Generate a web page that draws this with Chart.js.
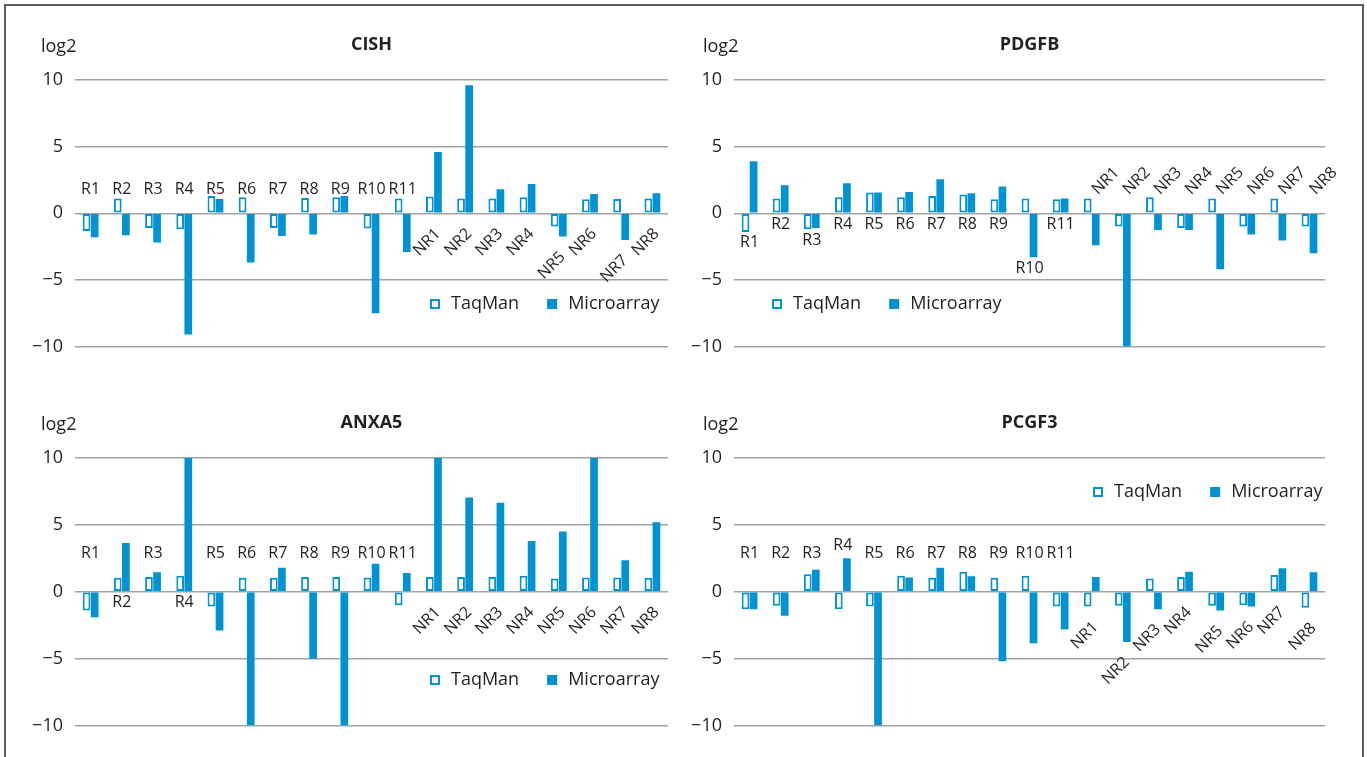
<!DOCTYPE html>
<html>
<head>
<meta charset="utf-8">
<script src="https://cdn.jsdelivr.net/npm/chart.js@4.4.1/dist/chart.umd.min.js"></script>
<style>
  body { margin: 0; background: #fff; }
  #wrap { position: relative; width: 1367px; height: 757px; overflow: hidden; }
  #frame { position: absolute; left: 4px; top: 4px; width: 1360px; height: 900px;
           box-sizing: border-box; border: 2px solid #5c5c5c; }
  canvas { position: absolute; }
</style>
</head>
<body>
<div id="wrap">
  <div id="frame"></div>
  <canvas id="cish"  width="683" height="378" style="left:0;top:0"></canvas>
  <canvas id="pdgfb" width="684" height="378" style="left:683px;top:0"></canvas>
  <canvas id="anxa5" width="683" height="379" style="left:0;top:378px"></canvas>
  <canvas id="pcgf3" width="684" height="379" style="left:683px;top:378px"></canvas>
</div>
<script>
// categories shared by all four panels
const categories = ['R1','R2','R3','R4','R5','R6','R7','R8','R9','R10','R11',
  'NR1','NR2','NR3','NR4','NR5','NR6','NR7','NR8'];
const yTicks = [-10, -5, 0, 5, 10];

// log2 ratios
const cishTaqman     = [-1.33, 1.1, -1.1, -1.2, 1.3, 1.2, -1.1, 1.15, 1.2, -1.15, 1.1, 1.25, 1.1, 1.1, 1.2, -1.0, 1.05, 1.07, 1.1];
const cishMicroarray = [-1.8, -1.65, -2.2, -9.1, 1.07, -3.7, -1.7, -1.6, 1.3, -7.5, -2.9, 4.6, 9.6, 1.8, 2.2, -1.75, 1.45, -2.0, 1.5];

const pdgfbTaqman     = [-1.4, 1.1, -1.2, 1.2, 1.55, 1.2, 1.3, 1.4, 1.05, 1.1, 1.05, 1.1, -1.0, 1.2, -1.1, 1.1, -1.0, 1.1, -1.0];
const pdgfbMicroarray = [3.9, 2.1, -1.1, 2.25, 1.55, 1.6, 2.55, 1.5, 2.0, -3.3, 1.1, -2.4, -10, -1.25, -1.25, -4.2, -1.6, -2.05, -3.0];

const anxa5Taqman     = [-1.4, 1.05, 1.1, 1.2, -1.1, 1.05, 1.05, 1.1, 1.1, 1.07, -1.0, 1.1, 1.1, 1.1, 1.2, 1.0, 1.07, 1.07, 1.05];
const anxa5Microarray = [-1.9, 3.65, 1.45, 10, -2.9, -10, 1.8, -5.0, -10, 2.1, 1.4, 10, 7.05, 6.65, 3.8, 4.5, 10, 2.35, 5.2];

const pcgf3Taqman     = [-1.3, -1.05, 1.3, -1.3, -1.1, 1.2, 1.05, 1.5, 1.05, 1.2, -1.1, -1.1, -1.05, 1.0, 1.1, -1.05, -1.0, 1.25, -1.2];
const pcgf3Microarray = [-1.3, -1.8, 1.65, 2.5, -10, 1.07, 1.8, 1.15, -5.2, -3.85, -2.8, 1.1, -3.75, -1.3, 1.5, -1.4, -1.1, 1.75, 1.45];

const BLUE = '#0093d3';
const TEXT = '#231f20';
const FONT = "'Open Sans', sans-serif";

// title and "log2" caption above each panel
const headerPlugin = {
  id: 'header',
  afterDraw(chart, args, o) {
    const { ctx, chartArea } = chart;
    ctx.save();
    ctx.fillStyle = TEXT;
    ctx.textBaseline = 'middle';
    ctx.font = '18px ' + FONT;
    ctx.textAlign = 'left';
    ctx.fillText('log2', o.unitX, 47);
    ctx.font = 'bold 18px ' + FONT;
    ctx.textAlign = 'center';
    ctx.fillText(o.title, (chartArea.left + chartArea.right) / 2, 45);
    ctx.restore();
  }
};

// sample names written next to the bars, as in the original figure
const categoryLabels = {
  id: 'categoryLabels',
  afterDatasetsDraw(chart, args, o) {
    const { ctx, scales: { x, y } } = chart;
    const a = chart.data.datasets[0].data, b = chart.data.datasets[1].data;
    ctx.save();
    ctx.font = '16px ' + FONT;
    ctx.fillStyle = TEXT;
    ctx.textBaseline = 'middle';
    chart.data.labels.forEach((lab, i) => {
      const rule = lab.startsWith('NR') ? o.nr : o.r;
      const lo = Math.min(0, a[i], b[i]);
      const hi = Math.max(0, a[i], b[i]);
      const cx = x.getPixelForValue(i);
      let py;
      if (rule.mode === 'row') {
        py = y.getPixelForValue(rule.at);
        if (rule.clash && hi > rule.at - 0.5) {
          py = rule.clash === 'above' ? y.getPixelForValue(hi) - 13 : y.getPixelForValue(lo) + 11;
        }
      } else {
        py = y.getPixelForValue(lo) + (rule.angle ? 18 : 11);
      }
      ctx.save();
      if (rule.angle) {
        ctx.translate(cx + (rule.mode === 'below' ? 4 : 3), py);
        ctx.rotate(rule.angle * Math.PI / 180);
        ctx.textAlign = rule.mode === 'below' ? 'right' : 'left';
      } else {
        ctx.translate(cx, py);
        ctx.textAlign = 'center';
      }
      ctx.fillText(lab, 0, 0);
      ctx.restore();
    });
    ctx.restore();
  }
};

// small square legend placed inside the plot
const boxLegend = {
  id: 'boxLegend',
  afterDraw(chart, args, o) {
    const ctx = chart.ctx;
    let x = o.x;
    const y = o.y;
    ctx.save();
    ctx.font = '18px ' + FONT;
    ctx.textBaseline = 'middle';
    ctx.textAlign = 'left';
    chart.data.datasets.forEach(ds => {
      ctx.fillStyle = ds.backgroundColor;
      ctx.fillRect(x, y - 5, 10, 10);
      if (ds.borderWidth) {
        ctx.strokeStyle = ds.borderColor;
        ctx.lineWidth = 2;
        ctx.strokeRect(x + 1, y - 4, 8, 8);
      }
      ctx.fillStyle = TEXT;
      ctx.fillText(ds.label, x + 21, y);
      x += 21 + ctx.measureText(ds.label).width + 28;
    });
    ctx.restore();
  }
};

function makeChart(id, title, taqman, microarray, opts) {
  return new Chart(document.getElementById(id), {
    type: 'bar',
    data: {
      labels: categories,
      datasets: [
        { label: 'TaqMan', data: taqman, backgroundColor: '#ffffff', borderColor: BLUE,
          borderWidth: 2, borderSkipped: false },
        { label: 'Microarray', data: microarray, backgroundColor: BLUE, borderWidth: 0 }
      ]
    },
    options: {
      responsive: false,
      animation: false,
      categoryPercentage: 0.52,
      barPercentage: 0.95,
      layout: { padding: { top: 80, bottom: 31.5, left: 0, right: opts.padRight } },
      scales: {
        x: { display: false },
        y: {
          min: -10, max: 10,
          afterFit: s => { s.width = opts.axisWidth; },
          afterBuildTicks: s => { s.ticks = yTicks.map(v => ({ value: v })); },
          ticks: {
            padding: 12,
            color: TEXT,
            font: { family: FONT, size: 18 },
            callback: v => (v < 0 ? '\u2212' + Math.abs(v) : String(v))
          },
          grid: { color: '#a3a3a3', lineWidth: 1.5, drawTicks: false },
          border: { display: false }
        }
      },
      plugins: {
        legend: { display: false },
        tooltip: { enabled: false },
        header: { title: title, unitX: opts.unitX },
        categoryLabels: { r: opts.r, nr: opts.nr },
        boxLegend: { x: opts.legendX, y: opts.legendY }
      }
    },
    plugins: [headerPlugin, categoryLabels, boxLegend]
  });
}

const leftPanel = { axisWidth: 75, padRight: 15, unitX: 41 };
const rightPanel = { axisWidth: 51, padRight: 42, unitX: 20 };

makeChart('cish', 'CISH', cishTaqman, cishMicroarray, Object.assign({}, leftPanel, {
  legendX: 430, legendY: 304,
  r: { mode: 'row', at: 1.8 },
  nr: { mode: 'below', angle: -45 }
}));

makeChart('pdgfb', 'PDGFB', pdgfbTaqman, pdgfbMicroarray, Object.assign({}, rightPanel, {
  legendX: 89, legendY: 304,
  r: { mode: 'below' },
  nr: { mode: 'row', at: 1.6, angle: -45 }
}));

makeChart('anxa5', 'ANXA5', anxa5Taqman, anxa5Microarray, Object.assign({}, leftPanel, {
  legendX: 430, legendY: 302,
  r: { mode: 'row', at: 2.9, clash: 'below' },
  nr: { mode: 'below', angle: -45 }
}));

makeChart('pcgf3', 'PCGF3', pcgf3Taqman, pcgf3Microarray, Object.assign({}, rightPanel, {
  legendX: 410, legendY: 114,
  r: { mode: 'row', at: 2.9, clash: 'above' },
  nr: { mode: 'below', angle: -45 }
}));
</script>
</body>
</html>
